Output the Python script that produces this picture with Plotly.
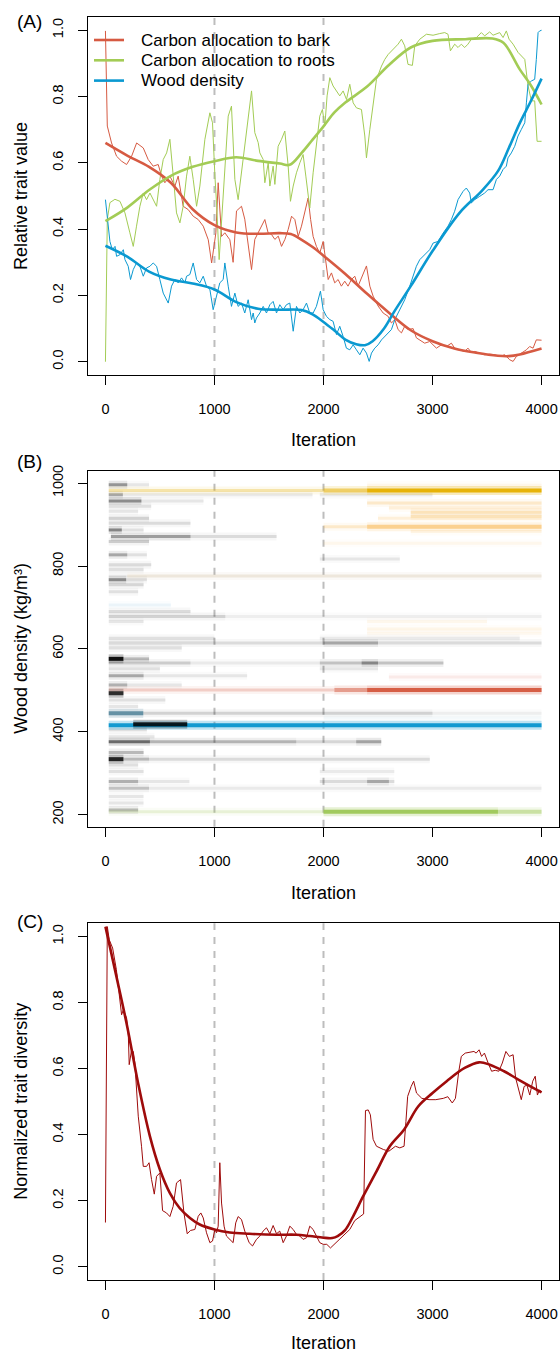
import plotly.graph_objects as go

# ---------------- Panel A: relative trait values ----------------
bark_iter = [0, 17, 56, 102, 148, 194, 240, 286, 347, 392, 438, 484, 515, 545, 591, 637, 667, 713,
             759, 805, 851, 897, 943, 974, 1013, 1034, 1065, 1095, 1141, 1171, 1202, 1248, 1278,
             1324, 1340, 1370, 1401, 1462, 1492, 1523, 1554, 1585, 1615, 1646, 1676, 1707, 1737,
             1768, 1798, 1829, 1859, 1882, 1905, 1935, 1966, 1997, 2021, 2043, 2073, 2103, 2134,
             2164, 2195, 2225, 2256, 2287, 2317, 2363, 2394, 2425, 2455, 2501, 2547, 2593, 2623,
             2654, 2684, 2715, 2745, 2776, 2822, 2852, 2883, 2928, 2974, 3005, 3036, 3081, 3127,
             3173, 3203, 3249, 3295, 3325, 3356, 3387, 3433, 3478, 3524, 3570, 3616, 3662, 3708,
             3739, 3769, 3815, 3861, 3891, 3922, 3952, 3983, 4000]
bark_val = [0.998, 0.711, 0.660, 0.620, 0.605, 0.595, 0.620, 0.660, 0.645, 0.610, 0.590, 0.595,
            0.560, 0.540, 0.560, 0.530, 0.560, 0.469, 0.459, 0.439, 0.429, 0.409, 0.368, 0.298,
            0.389, 0.540, 0.378, 0.389, 0.368, 0.300, 0.455, 0.469, 0.430, 0.328, 0.278, 0.369,
            0.389, 0.429, 0.389, 0.384, 0.369, 0.379, 0.348, 0.369, 0.399, 0.439, 0.429, 0.378,
            0.409, 0.449, 0.494, 0.429, 0.378, 0.348, 0.328, 0.363, 0.308, 0.248, 0.268, 0.238,
            0.248, 0.228, 0.243, 0.228, 0.248, 0.258, 0.228, 0.268, 0.289, 0.228, 0.198, 0.168,
            0.147, 0.137, 0.117, 0.127, 0.097, 0.087, 0.107, 0.097, 0.100, 0.072, 0.066, 0.056,
            0.061, 0.051, 0.041, 0.051, 0.046, 0.056, 0.041, 0.036, 0.031, 0.041, 0.028, 0.031,
            0.026, 0.021, 0.023, 0.021, 0.016, 0.021, 0.006, 0.001, 0.016, 0.026, 0.036, 0.046,
            0.041, 0.066, 0.064, 0.065]

roots_iter = [0, 17, 41, 87, 133, 179, 224, 255, 285, 316, 347, 377, 408, 438, 469, 499, 530, 561,
              591, 622, 652, 683, 713, 744, 774, 805, 836, 866, 912, 958, 982, 1004, 1019, 1043,
              1065, 1095, 1126, 1156, 1187, 1217, 1248, 1294, 1340, 1370, 1401, 1416, 1447, 1462,
              1493, 1508, 1538, 1554, 1584, 1615, 1645, 1676, 1697, 1722, 1752, 1783, 1813, 1838,
              1859, 1874, 1905, 1935, 1966, 1990, 2012, 2033, 2058, 2088, 2119, 2149, 2180, 2211,
              2241, 2272, 2302, 2348, 2379, 2394, 2425, 2455, 2486, 2532, 2562, 2593, 2639, 2684,
              2715, 2745, 2775, 2815, 2837, 2883, 2944, 3005, 3066, 3112, 3142, 3164, 3203, 3234,
              3264, 3295, 3325, 3356, 3402, 3448, 3478, 3524, 3555, 3586, 3616, 3647, 3677, 3702,
              3739, 3785, 3846, 3876, 3907, 3937, 3959, 4000]
roots_val = [0.000, 0.430, 0.480, 0.490, 0.484, 0.449, 0.389, 0.348, 0.409, 0.469, 0.509, 0.489,
             0.509, 0.489, 0.469, 0.550, 0.610, 0.630, 0.671, 0.560, 0.449, 0.419, 0.469, 0.560,
             0.620, 0.550, 0.469, 0.530, 0.671, 0.751, 0.721, 0.560, 0.479, 0.308, 0.429, 0.600,
             0.741, 0.771, 0.550, 0.489, 0.570, 0.701, 0.817, 0.691, 0.661, 0.630, 0.610, 0.540,
             0.600, 0.530, 0.590, 0.535, 0.650, 0.671, 0.696, 0.590, 0.484, 0.530, 0.570, 0.600,
             0.625, 0.560, 0.509, 0.464, 0.570, 0.650, 0.741, 0.761, 0.711, 0.802, 0.857, 0.832,
             0.817, 0.802, 0.817, 0.791, 0.837, 0.781, 0.766, 0.761, 0.681, 0.615, 0.701, 0.781,
             0.852, 0.892, 0.912, 0.927, 0.943, 0.958, 0.973, 0.953, 0.897, 0.894, 0.953, 0.973,
             0.988, 0.985, 0.990, 0.993, 0.988, 0.938, 0.958, 0.948, 0.958, 0.948, 0.958, 0.973,
             0.978, 0.993, 0.983, 0.995, 0.985, 0.988, 0.993, 0.978, 0.998, 0.973, 0.958, 0.933,
             0.912, 0.832, 0.787, 0.787, 0.665, 0.665]

wood_iter = [0, 41, 63, 88, 102, 133, 164, 179, 209, 230, 255, 285, 316, 347, 377, 408, 438, 469,
             499, 530, 576, 606, 637, 667, 698, 729, 744, 774, 805, 836, 866, 897, 927, 958, 988,
             1019, 1049, 1080, 1095, 1126, 1156, 1187, 1217, 1248, 1278, 1309, 1340, 1355, 1370,
             1385, 1416, 1447, 1477, 1508, 1538, 1569, 1599, 1630, 1660, 1691, 1722, 1752, 1783,
             1813, 1844, 1874, 1905, 1935, 1972, 1997, 2027, 2058, 2088, 2119, 2149, 2180, 2210,
             2241, 2272, 2302, 2333, 2363, 2394, 2419, 2440, 2470, 2501, 2532, 2562, 2593, 2623,
             2654, 2700, 2745, 2791, 2822, 2852, 2883, 2928, 2974, 3005, 3051, 3097, 3142, 3173,
             3203, 3234, 3280, 3310, 3341, 3356, 3387, 3433, 3478, 3509, 3555, 3586, 3616, 3647,
             3677, 3692, 3723, 3754, 3784, 3815, 3846, 3861, 3876, 3907, 3937, 3952, 3968, 3983,
             4000]
wood_val = [0.489, 0.363, 0.338, 0.348, 0.318, 0.323, 0.338, 0.308, 0.288, 0.248, 0.278, 0.298,
            0.288, 0.258, 0.283, 0.288, 0.298, 0.288, 0.248, 0.207, 0.177, 0.228, 0.248, 0.238,
            0.253, 0.238, 0.258, 0.263, 0.298, 0.248, 0.238, 0.258, 0.228, 0.218, 0.157, 0.197,
            0.238, 0.248, 0.298, 0.228, 0.167, 0.207, 0.167, 0.177, 0.147, 0.187, 0.127, 0.147,
            0.117, 0.132, 0.147, 0.167, 0.147, 0.172, 0.182, 0.147, 0.172, 0.157, 0.172, 0.177,
            0.092, 0.167, 0.147, 0.157, 0.177, 0.147, 0.147, 0.167, 0.213, 0.157, 0.137, 0.127,
            0.122, 0.082, 0.107, 0.076, 0.041, 0.036, 0.051, 0.036, 0.021, 0.041, 0.026, 0.001,
            0.026, 0.041, 0.051, 0.066, 0.076, 0.087, 0.097, 0.127, 0.157, 0.187, 0.228, 0.258,
            0.288, 0.308, 0.323, 0.338, 0.358, 0.363, 0.388, 0.409, 0.429, 0.454, 0.489, 0.514,
            0.524, 0.509, 0.479, 0.489, 0.499, 0.509, 0.519, 0.519, 0.550, 0.560, 0.580, 0.590,
            0.615, 0.630, 0.650, 0.681, 0.701, 0.721, 0.781, 0.837, 0.847, 0.852, 0.912, 0.993,
            0.998, 1.000]

# smoothed trends
bark_fit_iter = [0, 200, 400, 600, 800, 1000, 1200, 1400, 1600, 1700, 1800, 1900, 2000, 2200,
                 2400, 2600, 2800, 3000, 3200, 3400, 3600, 3700, 3800, 4000]
bark_fit_val = [0.660, 0.622, 0.588, 0.540, 0.460, 0.412, 0.390, 0.386, 0.388, 0.385, 0.368,
                0.346, 0.320, 0.265, 0.205, 0.148, 0.095, 0.062, 0.040, 0.027, 0.018, 0.017,
                0.022, 0.040]
roots_fit_iter = [0, 200, 400, 600, 800, 1000, 1200, 1400, 1600, 1690, 1800, 1900, 2000, 2100,
                  2200, 2400, 2600, 2800, 3000, 3300, 3550, 3650, 3800, 3900, 4000]
roots_fit_val = [0.424, 0.465, 0.518, 0.561, 0.588, 0.605, 0.617, 0.606, 0.598, 0.594, 0.630,
                 0.670, 0.710, 0.752, 0.782, 0.830, 0.895, 0.948, 0.968, 0.973, 0.975, 0.962,
                 0.882, 0.835, 0.776]
wood_fit_iter = [0, 200, 400, 600, 800, 1000, 1200, 1400, 1600, 1800, 1900, 2000, 2100, 2200,
                 2300, 2380, 2450, 2550, 2650, 2800, 3000, 3250, 3450, 3600, 3700, 3800, 3900,
                 4000]
wood_fit_val = [0.350, 0.317, 0.272, 0.248, 0.236, 0.218, 0.180, 0.160, 0.157, 0.156, 0.143,
                0.120, 0.094, 0.067, 0.053, 0.050, 0.062, 0.098, 0.152, 0.228, 0.334, 0.450,
                0.515, 0.575, 0.645, 0.720, 0.785, 0.854]

# ---------------- Panel B: wood density bands per iteration ----------------
band_wd = [996, 996, 972, 972, 972, 957, 957, 944, 932, 915, 903, 887, 887, 871, 871, 859, 827,
           827, 817, 803, 791, 776, 767, 767, 755, 738, 690, 678, 678, 666, 626, 626, 614, 614,
           602, 576, 566, 566, 566, 566, 552, 552, 535, 535, 513, 513, 477, 461, 445, 445, 405,
           388, 376, 376, 376, 376, 350, 334, 334, 320, 304, 304, 280, 280, 280, 280, 264, 264,
           244, 228, 211]
band_from = [30, 200, 30, 160, 1966, 30, 330, 30, 30, 30, 30, 30, 150, 50, 780, 30, 30, 200,
             1966, 30, 30, 30, 30, 190, 30, 30, 30, 30, 1100, 30, 30, 1966, 30, 2000, 30, 165,
             30, 780, 1966, 2350, 30, 1966, 30, 350, 30, 200, 30, 30, 347, 3000, 30, 30, 30,
             408, 1750, 2300, 30, 400, 165, 30, 30, 1966, 30, 300, 1966, 2400, 30, 400, 30, 30,
             30]
band_to = [200, 400, 160, 1900, 3000, 330, 900, 420, 300, 400, 780, 150, 350, 780, 1570, 400,
           200, 380, 2700, 420, 350, 4000, 190, 380, 350, 300, 780, 1100, 4000, 350, 1000, 3800,
           4000, 2500, 700, 400, 780, 1966, 3100, 2500, 500, 2500, 350, 1300, 200, 700, 550,
           300, 3000, 4000, 380, 450, 408, 1750, 2530, 2530, 350, 2975, 400, 300, 350, 2650,
           300, 770, 2650, 2600, 400, 4000, 350, 350, 300]
band_level = [0.55, 0.12, 0.45, 0.10, 0.10, 0.60, 0.12, 0.15, 0.12, 0.22, 0.18, 0.65, 0.15, 0.50,
              0.18, 0.25, 0.45, 0.15, 0.12, 0.18, 0.15, 0.08, 0.60, 0.15, 0.20, 0.15, 0.18, 0.22,
              0.08, 0.12, 0.15, 0.10, 0.18, 0.30, 0.15, 0.35, 0.25, 0.10, 0.30, 0.40, 0.15, 0.12,
              0.45, 0.12, 0.40, 0.12, 0.15, 0.12, 0.22, 0.08, 0.15, 0.12, 0.80, 0.38, 0.20, 0.30,
              0.35, 0.18, 0.35, 0.15, 0.15, 0.10, 0.40, 0.12, 0.18, 0.30, 0.30, 0.10, 0.12, 0.12,
              0.35]

# dominant strategies (coloured bands)
strat_wd = [995, 982, 982, 982, 952, 940, 930, 920, 915, 895, 895, 883, 855, 776, 706, 666, 648,
            638, 532, 501, 501, 501, 445, 433, 416, 418, 576, 493, 334, 207, 207, 207]
strat_from = [2400, 30, 2000, 2400, 2400, 2600, 2800, 2800, 2500, 2000, 2400, 2800, 2000, 200,
              30, 2400, 2400, 2400, 2600, 30, 2100, 2400, 30, 2000, 30, 255, 30, 30, 30, 30, 2000,
              3600]
strat_to = [4000, 2000, 2400, 4000, 4000, 4000, 4000, 4000, 4000, 2400, 4000, 4000, 4000, 4000,
            600, 3500, 4000, 4000, 4000, 2100, 2400, 4000, 347, 4000, 4000, 750, 165, 165, 165,
            2000, 3600, 4000]
strat_kind = ['orange', 'gold', 'gold', 'gold', 'orange', 'orange', 'orange', 'orange', 'orange',
              'orange', 'orange', 'orange', 'orange', 'orange', 'sky', 'orange', 'orange',
              'orange', 'red', 'red', 'red', 'red', 'teal', 'sky', 'blue', 'black', 'black',
              'black', 'black', 'green', 'green', 'green']
strat_level = [0.12, 0.35, 0.55, 1.00, 0.30, 0.20, 0.35, 0.30, 0.20, 0.30, 0.55, 0.15, 0.10, 0.10,
               0.15, 0.10, 0.12, 0.08, 0.12, 0.30, 0.55, 1.00, 0.70, 0.08, 1.00, 0.85, 0.95, 0.80,
               0.85, 0.25, 1.00, 0.50]

# ---------------- Panel C: trait diversity ----------------
div_iter = [0, 17, 35, 66, 100, 130, 148, 164, 194, 210, 218, 240, 255, 270, 301, 331, 347, 377,
            400, 423, 448, 469, 499, 524, 560, 591, 621, 652, 689, 720, 750, 780, 820, 851, 875,
            897, 927, 958, 982, 1004, 1019, 1034, 1049, 1065, 1088, 1110, 1141, 1171, 1195, 1217,
            1248, 1278, 1318, 1349, 1385, 1416, 1446, 1477, 1508, 1538, 1569, 1599, 1630, 1660,
            1691, 1722, 1752, 1783, 1813, 1844, 1874, 1905, 1935, 1966, 1997, 2030, 2064, 2100,
            2150, 2196, 2241, 2287, 2333, 2368, 2385, 2410, 2430, 2455, 2486, 2550, 2600, 2660,
            2700, 2739, 2756, 2772, 2804, 2827, 2853, 2902, 2968, 3030, 3099, 3140, 3181, 3210,
            3240, 3264, 3300, 3345, 3380, 3400, 3427, 3450, 3476, 3510, 3542, 3575, 3608, 3640,
            3673, 3705, 3739, 3762, 3790, 3814, 3840, 3866, 3892, 3919, 3942, 3962, 3980, 4000]
div_val = [0.134, 1.030, 0.990, 0.965, 0.900, 0.820, 0.763, 0.778, 0.753, 0.700, 0.612, 0.657,
           0.652, 0.617, 0.456, 0.365, 0.304, 0.304, 0.315, 0.264, 0.220, 0.274, 0.284, 0.170,
           0.163, 0.152, 0.183, 0.254, 0.264, 0.163, 0.100, 0.110, 0.113, 0.153, 0.163, 0.148,
           0.103, 0.073, 0.078, 0.113, 0.103, 0.123, 0.315, 0.193, 0.123, 0.093, 0.083, 0.073,
           0.133, 0.152, 0.143, 0.108, 0.073, 0.063, 0.083, 0.093, 0.108, 0.118, 0.100, 0.125,
           0.100, 0.108, 0.073, 0.093, 0.123, 0.113, 0.098, 0.093, 0.083, 0.088, 0.123, 0.113,
           0.093, 0.073, 0.068, 0.068, 0.057, 0.068, 0.083, 0.098, 0.113, 0.140, 0.150, 0.160,
           0.473, 0.475, 0.460, 0.386, 0.365, 0.355, 0.350, 0.365, 0.360, 0.365, 0.440, 0.516,
           0.546, 0.562, 0.526, 0.510, 0.506, 0.506, 0.510, 0.515, 0.496, 0.510, 0.590, 0.637,
           0.647, 0.649, 0.652, 0.647, 0.657, 0.637, 0.647, 0.617, 0.592, 0.595, 0.592, 0.617,
           0.652, 0.637, 0.642, 0.572, 0.540, 0.506, 0.546, 0.550, 0.520, 0.562, 0.577, 0.520,
           0.535, 0.530]
div_fit_iter = [0, 100, 200, 300, 408, 500, 590, 680, 775, 865, 1000, 1140, 1320, 1570, 1750,
                1875, 2000, 2080, 2130, 2200, 2272, 2363, 2486, 2608, 2740, 2870, 3000, 3130,
                3295, 3427, 3525, 3656, 3787, 4000]
div_fit_val = [1.030, 0.880, 0.727, 0.555, 0.395, 0.294, 0.224, 0.178, 0.148, 0.128, 0.113,
               0.104, 0.100, 0.097, 0.097, 0.093, 0.088, 0.087, 0.093, 0.112, 0.153, 0.213,
               0.289, 0.365, 0.416, 0.486, 0.526, 0.562, 0.602, 0.619, 0.612, 0.592, 0.567,
               0.528]

legend_names = ["Carbon allocation to bark", "Carbon allocation to roots", "Wood density"]

# ---------------- styling ----------------
W, H = 560, 1355
ML, MR, MT, MB = 88, 1, 17, 75
FONT = "Liberation Sans, Arial, Helvetica, sans-serif"
RED, GREEN, BLUE, DARKRED = "#D65A42", "#A3CC55", "#0A99D1", "#9E0B0B"
KIND_RGB = {
    "gray": (0, 0, 0), "black": (0, 0, 0), "gold": (230, 176, 0), "orange": (247, 178, 70),
    "red": (212, 88, 64), "blue": (10, 150, 206), "sky": (120, 180, 215),
    "teal": (45, 105, 130), "green": (158, 200, 88),
}


def fx(px):
    return (px - ML) / (W - ML - MR)


def fy(py):
    return (H - MB - py) / (H - MT - MB)


def rgba(kind, a):
    r, g, b = KIND_RGB[kind]
    return f"rgba({r},{g},{b},{min(a, 1.0):.3f})"


fig = go.Figure()

# panel A traces: thin raw lines then smoothed trends
for it, v, col in [(bark_iter, bark_val, RED), (roots_iter, roots_val, GREEN),
                   (wood_iter, wood_val, BLUE)]:
    fig.add_trace(go.Scatter(x=it, y=v, mode="lines", line=dict(color=col, width=1),
                             showlegend=False, hoverinfo="skip", xaxis="x", yaxis="y"))
for it, v, col in [(bark_fit_iter, bark_fit_val, RED), (roots_fit_iter, roots_fit_val, GREEN),
                   (wood_fit_iter, wood_fit_val, BLUE)]:
    fig.add_trace(go.Scatter(x=it, y=v, mode="lines",
                             line=dict(color=col, width=2.6, shape="spline", smoothing=1.0),
                             showlegend=False, hoverinfo="skip", xaxis="x", yaxis="y"))


def add_band(d, a, b, kind, lv, core):
    # soft halo under a narrower core gives the bands a blurred edge
    fig.add_trace(go.Scatter(x=[a, b], y=[d, d], mode="lines",
                             line=dict(color=rgba(kind, lv * 0.22), width=core + 5),
                             showlegend=False, hoverinfo="skip", xaxis="x2", yaxis="y2"))
    fig.add_trace(go.Scatter(x=[a, b], y=[d, d], mode="lines",
                             line=dict(color=rgba(kind, lv * 0.8), width=core),
                             showlegend=False, hoverinfo="skip", xaxis="x2", yaxis="y2"))


# panel B: faint grey bands, then coloured strategy bands
for d, a, b, lv in zip(band_wd, band_from, band_to, band_level):
    add_band(d, a, b, "gray", lv * 0.8, 3)
for d, a, b, k, lv in zip(strat_wd, strat_from, strat_to, strat_kind, strat_level):
    add_band(d, a, b, k, lv * 1.2 if lv >= 0.5 else lv, 4 if lv >= 0.5 else 3)

# panel C
fig.add_trace(go.Scatter(x=div_iter, y=div_val, mode="lines", line=dict(color=DARKRED, width=1),
                         showlegend=False, hoverinfo="skip", xaxis="x3", yaxis="y3"))
fig.add_trace(go.Scatter(x=div_fit_iter, y=div_fit_val, mode="lines",
                         line=dict(color=DARKRED, width=2.6, shape="spline", smoothing=1.0),
                         showlegend=False, hoverinfo="skip", xaxis="x3", yaxis="y3"))

# axes
tickfont = dict(family=FONT, size=14.5, color="black")
base = dict(showline=True, linecolor="black", linewidth=1, mirror=True, ticks="outside",
            ticklen=9, tickwidth=1, tickcolor="black", showgrid=False, zeroline=False,
            tickfont=tickfont)
xbase = dict(base, range=[-160, 4160], tickvals=[0, 1000, 2000, 3000, 4000],
             ticklabelstandoff=12)
frac_ticks = [0, 0.2, 0.4, 0.6, 0.8, 1.0]
ybase = dict(base, tickangle=-90, ticklabelstandoff=9)

dom_a = [fy(375), 1.0]
dom_b = [fy(826.7), fy(470.7)]
dom_c = [0.0, fy(923.3)]

fig.update_layout(
    width=W, height=H,
    margin=dict(l=ML, r=MR, t=MT, b=MB, pad=0),
    paper_bgcolor="white", plot_bgcolor="white",
    font=dict(family=FONT, color="black"),
    showlegend=False,
    xaxis=dict(xbase, anchor="y", domain=[0, 1]),
    yaxis=dict(ybase, anchor="x", domain=dom_a, range=[-0.04, 1.04], tickvals=frac_ticks,
               ticktext=[f"{t:.1f}" for t in frac_ticks]),
    xaxis2=dict(xbase, anchor="y2", domain=[0, 1]),
    yaxis2=dict(ybase, anchor="x2", domain=dom_b, range=[171, 1030],
                tickvals=[200, 400, 600, 800, 1000]),
    xaxis3=dict(xbase, anchor="y3", domain=[0, 1]),
    yaxis3=dict(ybase, anchor="x3", domain=dom_c, range=[-0.04, 1.04], tickvals=frac_ticks,
                ticktext=[f"{t:.1f}" for t in frac_ticks]),
)

# dashed reference lines at iterations 1000 and 2000
for xr, yr in [("x", "y"), ("x2", "y2"), ("x3", "y3")]:
    for xv in (1000, 2000):
        fig.add_shape(type="line", xref=xr, yref=f"{yr} domain", x0=xv, x1=xv, y0=0, y1=1,
                      line=dict(color="#BDBDBD", width=2, dash="7px,7px"), layer="below")

# key for panel A
for i, (name, col) in enumerate(zip(legend_names, [RED, GREEN, BLUE])):
    py = 40 + i * 20.3
    fig.add_shape(type="line", xref="paper", yref="paper", x0=fx(94), x1=fx(124),
                  y0=fy(py), y1=fy(py), line=dict(color=col, width=2.6))
    fig.add_annotation(text=name, x=fx(138.5), y=fy(py), xref="paper", yref="paper",
                       showarrow=False, xanchor="left", yanchor="middle",
                       font=dict(family=FONT, size=17, color="black"))

# axis titles and panel letters
title_font = dict(family=FONT, size=18, color="black")
cx = fx((ML + W - MR) / 2)
for py in (440.5, 892.5, 1342.5):
    fig.add_annotation(text="Iteration", x=cx, y=fy(py), xref="paper", yref="paper",
                       showarrow=False, font=title_font, xanchor="center", yanchor="middle")
for txt, py in [("Relative trait value", 196), ("Wood density (kg/m³)", 648.7),
                ("Normalized trait diversity", 1101.7)]:
    fig.add_annotation(text=txt, x=fx(21), y=fy(py), xref="paper", yref="paper",
                       showarrow=False, font=title_font, textangle=-90,
                       xanchor="center", yanchor="middle")
for txt, py in [("(A)", 21), ("(B)", 461.7), ("(C)", 921.7)]:
    fig.add_annotation(text=txt, x=fx(29.5), y=fy(py), xref="paper", yref="paper",
                       showarrow=False, font=dict(family=FONT, size=19, color="black"),
                       xanchor="center", yanchor="middle")

fig.write_html("out.html")
